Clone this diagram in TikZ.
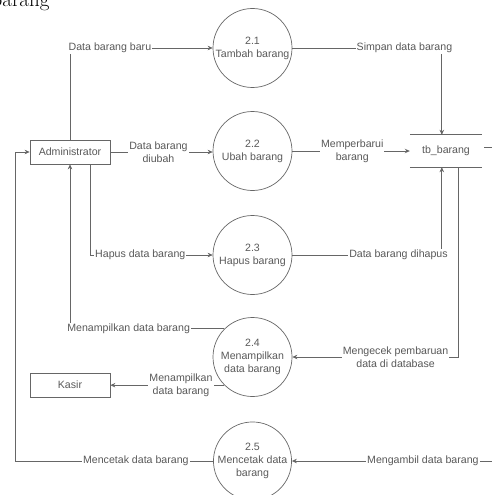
\documentclass[tikz,border=0pt]{standalone}
\usepackage{fontspec}
\newfontfamily\diafont{Liberation Sans}
\usetikzlibrary{arrows.meta,calc}
\begin{document}
\begin{tikzpicture}[x=1pt,y=-1pt,
  every node/.style={font=\diafont\fontsize{10.6}{13}\selectfont, text=black!65},
  proc/.style={circle, draw=black!60, line width=0.7pt, minimum size=79pt, inner sep=0pt, align=center},
  ent/.style={rectangle, draw=black!60, line width=0.7pt, minimum width=80pt, minimum height=24pt, inner sep=0pt},
  store/.style={rectangle, minimum width=72pt, minimum height=32pt, inner sep=0pt},
  flow/.style={draw=black!60, line width=0.7pt, -{Stealth[length=5pt,width=4.5pt]}},
  plain/.style={draw=black!60, line width=0.7pt},
  lbl/.style={fill=white, inner sep=1pt, align=center}]
\useasboundingbox (0,0) rectangle (491,495);

\node[font=\fontsize{21}{21}\selectfont, text=black, anchor=base east] (hdr) at (53,7) {barang};

\node[proc] (c1) at (252.5,48) {2.1\\Tambah barang};
\node[proc] (c2) at (252.5,151) {2.2\\Ubah barang};
\node[proc] (c3) at (252.5,255) {2.3\\Hapus barang};
\node[proc] (c4) at (252.5,357) {2.4\\Menampilkan\\data barang};
\node[proc, minimum size=77pt] (c5) at (252.5,461) {2.5\\Mencetak data\\barang};

\node[ent] (admin) at (70,152) {Administrator};
\node[ent] (kasir) at (70,385) {Kasir};

\node[store] (tb) at (446,151) {tb\_barang};
\draw[plain] (tb.north west) -- (tb.north east);
\draw[plain] (tb.south west) -- (tb.south east);

\coordinate (tbin1) at ($(tb.north west)+(32,0)$);
\coordinate (tbin3) at ($(tb.south west)+(32,0)$);
\coordinate (tbout4) at ($(tb.south west)+(49,0)$);
\coordinate (edgeB) at (495,461);
\coordinate (edgeT) at (495,147);
\coordinate (tbr) at ($(tb.east)+(2,-4)$);
\coordinate (hapusdn) at ($(admin.south)+(20,0)$);

% 1
\draw[flow] (admin.north) -- (admin.north |- c1.west)
  -- node[lbl, pos=0.28] (l1) {Data barang baru} (c1.west);
% 2
\draw[flow] (c1.east) -- node[lbl, pos=0.75] (l2) {Simpan data barang} (tbin1 |- c1.east) -- (tbin1);
% 3
\draw[flow] (admin.east) -- node[lbl, pos=0.47] (l3) {Data barang\\diubah} (c2.west |- admin.east);
% 4
\draw[flow] (c2.east) -- node[lbl, pos=0.51] (l4) {Memperbarui\\barang} (tb.west);
% 5
\draw[flow] (hapusdn) -- (hapusdn |- c3.west)
  -- node[lbl, pos=0.41] (l5) {Hapus data barang} (c3.west);
% 6
\draw[flow] (c3.east) -- node[lbl, pos=0.71] (l6) {Data barang dihapus} (tbin3 |- c3.east) -- (tbin3);
% 7
\draw[flow] (tbout4) -- (tbout4 |- c4.east)
  -- node[lbl, pos=0.38] (l7) {Mengecek pembaruan\\data di database} (c4.east);
% 8
\draw[flow] (c4.135) -- node[lbl, pos=0.62] (l8) {Menampilkan data barang} (admin.south |- c4.135) -- (admin.south);
% 9
\draw[flow] (c4.225) -- node[lbl, pos=0.38] (l9) {Menampilkan\\data barang} (kasir.east |- c4.225);
% 10
\draw[flow] (c5.west) -- node[lbl, pos=0.39] (l10) {Mencetak data barang} (15,461) -- (15,152) -- (admin.west);
% 11
\draw[flow] (edgeB) -- node[lbl, pos=0.355] (l11) {Mengambil data barang} (c5.east);
% 12
\draw[plain] (tbr) -- (edgeT);
\end{tikzpicture}
\end{document}
